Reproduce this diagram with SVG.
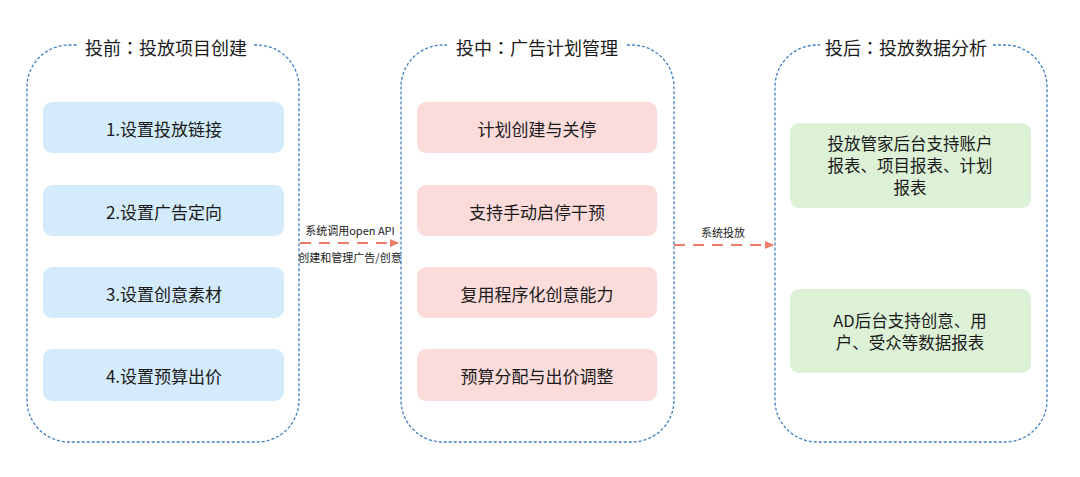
<svg xmlns="http://www.w3.org/2000/svg" width="1080" height="477" viewBox="0 0 1080 477">
<style>
.bg{fill:#ffffff}
.frame{fill:none;stroke:#3f7ec4;stroke-width:1.3;stroke-dasharray:3 2}
.title{font-family:"Noto Sans CJK SC","Liberation Sans",sans-serif;font-size:18px;fill:#1a1a1a;text-anchor:middle;dominant-baseline:central}
.colon{font-family:"Noto Sans CJK TC","Noto Sans CJK SC",sans-serif}
.box{rx:9;ry:9}
.blue{fill:#d3ebfb}
.pink{fill:#fbdcdb}
.green{fill:#ddf1d6}
.t{font-family:"Noto Sans CJK SC","Liberation Sans",sans-serif;font-size:17px;fill:#1a1a1a;text-anchor:middle;dominant-baseline:central}
.tm{font-family:"Noto Sans CJK SC","Liberation Sans",sans-serif;font-size:16.5px;fill:#1a1a1a;text-anchor:middle}
.lbl{font-family:"Noto Sans CJK SC","Liberation Sans",sans-serif;font-size:11px;fill:#1a1a1a;text-anchor:middle;dominant-baseline:central}
.arrow{fill:none;stroke:#ee7b67;stroke-width:2.2;stroke-dasharray:11 8}
</style>
<defs>
<marker id="ah" markerWidth="10" markerHeight="10" refX="8" refY="5" orient="auto" markerUnits="userSpaceOnUse">
<path d="M0,1 L9,5 L0,9 Z" fill="#ee7b67"/>
</marker>
</defs>
<rect class="bg" width="1080" height="477"/>

<g id="stage-before">
<path class="frame" d="M254 45 H257 A42 42 0 0 1 299 87 V400 A42 42 0 0 1 257 442 H69 A42 42 0 0 1 27 400 V87 A42 42 0 0 1 69 45 H77"/>
<text class="title" x="166" y="47">投前<tspan class="colon">：</tspan>投放项目创建</text>
</g>
<g id="b1"><rect class="box blue" x="43" y="102" width="241" height="51"/><text class="t" x="164" y="128">1.设置投放链接</text></g>
<g id="b2"><rect class="box blue" x="43" y="185" width="241" height="51"/><text class="t" x="164" y="211">2.设置广告定向</text></g>
<g id="b3"><rect class="box blue" x="43" y="267" width="241" height="51"/><text class="t" x="164" y="293">3.设置创意素材</text></g>
<g id="b4"><rect class="box blue" x="43" y="349" width="241" height="52"/><text class="t" x="164" y="375">4.设置预算出价</text></g>

<g id="stage-during">
<path class="frame" d="M627 45 H632 A42 42 0 0 1 674 87 V400 A42 42 0 0 1 632 442 H443 A42 42 0 0 1 401 400 V87 A42 42 0 0 1 443 45 H447"/>
<text class="title" x="537" y="47">投中<tspan class="colon">：</tspan>广告计划管理</text>
</g>
<g id="m1"><rect class="box pink" x="417" y="102" width="240" height="51"/><text class="t" x="537" y="128">计划创建与关停</text></g>
<g id="m2"><rect class="box pink" x="417" y="185" width="240" height="51"/><text class="t" x="537" y="211">支持手动启停干预</text></g>
<g id="m3"><rect class="box pink" x="417" y="267" width="240" height="51"/><text class="t" x="537" y="293">复用程序化创意能力</text></g>
<g id="m4"><rect class="box pink" x="417" y="349" width="240" height="52"/><text class="t" x="537" y="375">预算分配与出价调整</text></g>

<g id="stage-after">
<path class="frame" d="M993 45 H1005 A42 42 0 0 1 1047 87 V400 A42 42 0 0 1 1005 442 H817 A42 42 0 0 1 775 400 V87 A42 42 0 0 1 817 45 H820"/>
<text class="title" x="906" y="47">投后<tspan class="colon">：</tspan>投放数据分析</text>
</g>
<g id="r1"><rect class="box green" x="790" y="123" width="241" height="85"/>
<text class="tm" x="910" y="150">投放管家后台支持账户<tspan x="910" dy="22">报表、项目报表、计划</tspan><tspan x="910" dy="22">报表</tspan></text></g>
<g id="r2"><rect class="box green" x="790" y="289" width="241" height="84"/>
<text class="tm" x="910" y="327">AD后台支持创意、用<tspan x="910" dy="22">户、受众等数据报表</tspan></text></g>

<g id="connectors">
<path class="arrow" d="M300 243 H398" marker-end="url(#ah)"/>
<text class="lbl" x="350" y="230">系统调用open API</text>
<text class="lbl" x="350" y="257">创建和管理广告/创意</text>
<path class="arrow" d="M674 245 H773" marker-end="url(#ah)"/>
<text class="lbl" x="723" y="232">系统投放</text>
</g>
</svg>
